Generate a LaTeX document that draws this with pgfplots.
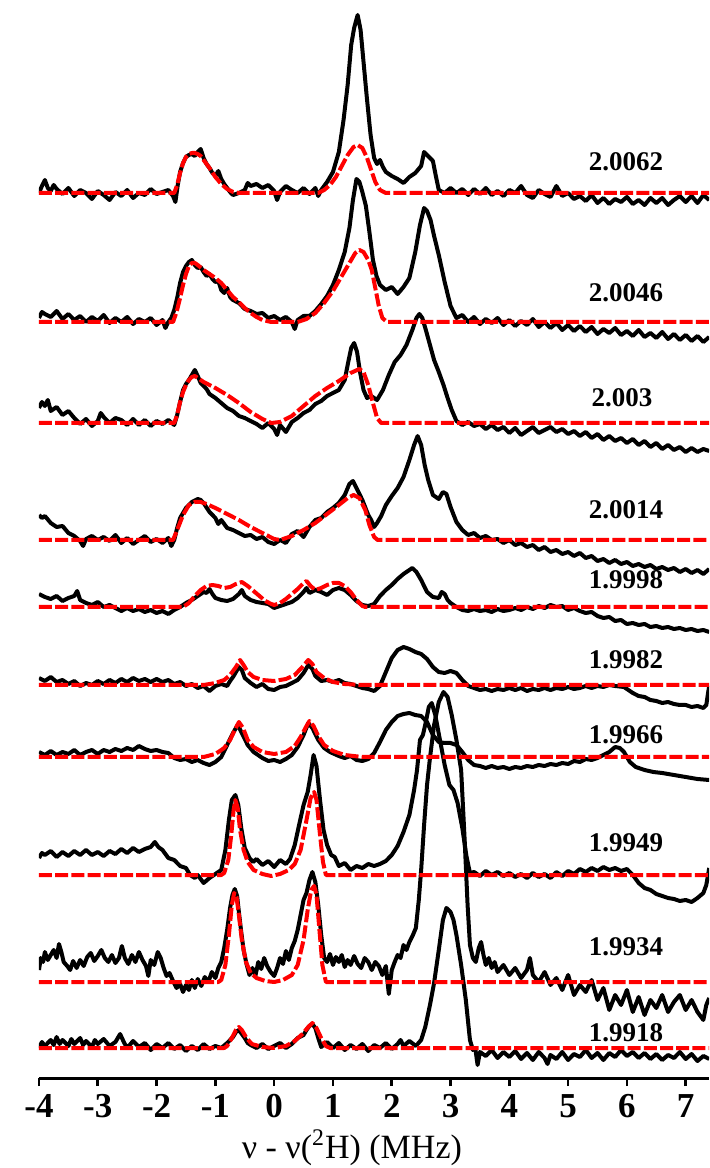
\documentclass[border=0pt]{standalone}
\usepackage{pgfplots}
\pgfplotsset{compat=1.18}
\usepackage{fontspec}
\setmainfont{Liberation Serif}
\begin{document}
\begin{tikzpicture}[lab/.style={font=\fontsize{13.5}{15}\selectfont\bfseries, anchor=center}]
\path[use as bounding box] (-19.5pt,-45pt) rectangle (335pt,539pt);
\begin{axis}[
 at={(0,0)}, anchor=south west,
 scale only axis, width=335pt, height=539pt,
 xmin=-4, xmax=7.396, ymin=0, ymax=1078,
 axis x line=bottom, axis y line=none,
 x axis line style={-, line width=1.5pt},
 xtick={-4,-3,-2,-1,0,1,2,3,4,5,6,7},
 xticklabels={-4,-3,-2,-1,0,1,2,3,4,5,6,7},
 tick align=outside, major tick length=4pt,
 xtick style={line width=1.3pt, black},
 xticklabel style={font=\fontsize{17.5}{19}\selectfont\bfseries, inner sep=2pt, yshift=-2pt},
 xlabel={ν - ν(\textsuperscript{2}H) (MHz)},
 xlabel style={at={(axis description cs:0.467,0)}, anchor=base, yshift=-40pt, font=\fontsize{17}{19}\selectfont},
 blk/.style={black, line width=2pt, line join=round, y filter/.expression={1078-y}},
 rd/.style={red, line width=2pt, line join=round, dash pattern=on 6.5pt off 1.6pt, y filter/.expression={1078-y}},
]
% ---- black experimental traces ----
\addplot[blk] coordinates {(-4,193)(-3.95,186)(-3.9,180)(-3.85,188)(-3.8,191)(-3.75,185)(-3.7,189)(-3.6,194)(-3.5,188)(-3.45,192)(-3.4,196)(-3.3,190)(-3.2,193)(-3.1,199)(-3.0,191)(-2.9,195)(-2.8,200)(-2.7,192)(-2.6,196)(-2.5,190)(-2.4,198)(-2.3,193)(-2.2,195)(-2.1,189)(-2.0,194)(-1.9,192)(-1.8,190)(-1.72,196)(-1.68,202)(-1.64,185)(-1.6,172)(-1.55,163)(-1.5,157)(-1.45,155)(-1.4,154)(-1.35,156)(-1.3,152)(-1.25,149)(-1.2,158)(-1.15,164)(-1.1,168)(-1.05,173)(-1.0,176)(-0.95,171)(-0.9,179)(-0.85,184)(-0.8,188)(-0.75,192)(-0.7,195)(-0.6,193)(-0.5,190)(-0.45,183)(-0.4,186)(-0.3,184)(-0.2,188)(-0.1,185)(0.0,191)(0.05,200)(0.1,192)(0.2,186)(0.3,190)(0.4,193)(0.5,188)(0.6,194)(0.7,188)(0.75,196)(0.8,190)(0.9,182)(1.0,172)(1.1,152)(1.18,120)(1.25,85)(1.31,45)(1.36,28)(1.42,15)(1.47,30)(1.52,62)(1.58,100)(1.64,135)(1.7,158)(1.75,164)(1.8,160)(1.85,167)(1.9,172)(2.0,176)(2.1,179)(2.2,183)(2.3,177)(2.4,173)(2.5,166)(2.55,152)(2.6,155)(2.65,158)(2.7,161)(2.75,176)(2.8,190)(2.9,193)(3.0,188)(3.1,193)(3.2,189)(3.3,195)(3.4,189)(3.5,194)(3.6,188)(3.7,195)(3.8,191)(3.9,196)(4.0,190)(4.1,193)(4.2,186)(4.3,195)(4.4,198)(4.5,190)(4.6,194)(4.7,197)(4.8,186)(4.9,196)(5.0,193)(5.1,199)(5.2,196)(5.3,201)(5.4,195)(5.5,203)(5.6,198)(5.7,204)(5.8,199)(5.9,202)(6.0,197)(6.1,204)(6.2,200)(6.3,205)(6.4,198)(6.5,203)(6.6,198)(6.7,205)(6.8,200)(6.9,196)(7.0,202)(7.1,196)(7.2,203)(7.3,195)(7.4,200)};
\addplot[blk] coordinates {(-4,318)(-3.95,312)(-3.9,314)(-3.8,317)(-3.7,311)(-3.6,319)(-3.5,314)(-3.4,320)(-3.3,316)(-3.2,322)(-3.1,317)(-3.0,321)(-2.9,315)(-2.8,323)(-2.7,318)(-2.6,322)(-2.5,317)(-2.4,324)(-2.3,319)(-2.2,322)(-2.1,318)(-2.0,325)(-1.9,320)(-1.85,328)(-1.8,322)(-1.75,318)(-1.7,310)(-1.65,298)(-1.6,283)(-1.55,272)(-1.5,266)(-1.45,262)(-1.4,260)(-1.35,265)(-1.3,268)(-1.25,267)(-1.2,272)(-1.15,276)(-1.1,274)(-1.05,279)(-1.0,282)(-0.95,281)(-0.9,290)(-0.85,293)(-0.8,288)(-0.75,297)(-0.7,300)(-0.6,303)(-0.5,309)(-0.4,311)(-0.3,314)(-0.2,313)(-0.1,318)(0.0,316)(0.1,320)(0.2,317)(0.3,322)(0.35,329)(0.4,320)(0.5,316)(0.6,316)(0.7,311)(0.8,304)(0.9,296)(1.0,285)(1.1,270)(1.2,252)(1.28,228)(1.34,200)(1.4,179)(1.45,182)(1.5,192)(1.56,206)(1.62,232)(1.68,260)(1.74,276)(1.8,285)(1.9,290)(2.0,287)(2.1,294)(2.2,287)(2.3,278)(2.4,252)(2.48,225)(2.55,208)(2.6,211)(2.66,220)(2.72,236)(2.8,255)(2.9,282)(3.0,306)(3.1,318)(3.2,315)(3.3,322)(3.4,317)(3.5,324)(3.6,319)(3.7,323)(3.8,318)(3.9,325)(4.0,320)(4.1,326)(4.2,321)(4.3,325)(4.4,319)(4.5,327)(4.6,322)(4.7,328)(4.8,323)(4.9,330)(5.0,325)(5.1,331)(5.2,326)(5.3,332)(5.4,327)(5.5,334)(5.6,329)(5.7,333)(5.8,328)(5.9,335)(6.0,331)(6.1,336)(6.2,330)(6.3,337)(6.4,333)(6.5,338)(6.6,332)(6.7,339)(6.8,334)(6.9,340)(7.0,335)(7.1,341)(7.2,336)(7.3,342)(7.4,337)};
\addplot[blk] coordinates {(-4,408)(-3.95,402)(-3.9,406)(-3.85,400)(-3.8,411)(-3.7,407)(-3.6,415)(-3.5,411)(-3.4,418)(-3.3,424)(-3.2,419)(-3.1,426)(-3.0,421)(-2.95,413)(-2.9,417)(-2.8,423)(-2.7,418)(-2.6,420)(-2.5,425)(-2.4,419)(-2.3,425)(-2.2,420)(-2.1,426)(-2.0,421)(-1.9,424)(-1.8,420)(-1.7,425)(-1.65,415)(-1.6,402)(-1.55,390)(-1.5,384)(-1.45,380)(-1.4,375)(-1.35,370)(-1.3,376)(-1.25,383)(-1.2,386)(-1.15,389)(-1.1,394)(-1.0,398)(-0.9,403)(-0.8,408)(-0.7,411)(-0.6,416)(-0.5,418)(-0.4,421)(-0.3,424)(-0.2,428)(-0.1,423)(0.0,429)(0.05,435)(0.1,425)(0.2,432)(0.3,422)(0.4,418)(0.5,413)(0.6,410)(0.7,404)(0.8,401)(0.9,396)(1.0,393)(1.1,390)(1.2,380)(1.26,362)(1.31,348)(1.36,343)(1.41,352)(1.46,372)(1.52,390)(1.58,398)(1.65,396)(1.75,400)(1.85,390)(1.95,375)(2.05,362)(2.15,355)(2.25,345)(2.35,330)(2.42,318)(2.47,314)(2.52,318)(2.58,330)(2.65,345)(2.72,360)(2.8,372)(2.88,385)(2.95,398)(3.02,410)(3.1,421)(3.2,425)(3.3,422)(3.4,426)(3.5,424)(3.6,429)(3.7,425)(3.8,430)(3.9,427)(4.0,433)(4.1,428)(4.2,435)(4.3,431)(4.4,427)(4.5,433)(4.6,430)(4.7,427)(4.8,432)(4.9,429)(5.0,434)(5.1,431)(5.2,436)(5.3,432)(5.4,438)(5.5,434)(5.6,440)(5.7,436)(5.8,441)(5.9,438)(6.0,443)(6.1,439)(6.2,445)(6.3,441)(6.4,447)(6.5,443)(6.6,449)(6.7,445)(6.8,450)(6.9,447)(7.0,452)(7.1,448)(7.2,452)(7.3,449)(7.4,451)};
\addplot[blk] coordinates {(-4,515)(-3.95,518)(-3.9,516)(-3.8,523)(-3.7,527)(-3.6,526)(-3.5,533)(-3.4,536)(-3.3,541)(-3.25,546)(-3.2,539)(-3.1,536)(-3.0,540)(-2.9,537)(-2.8,541)(-2.7,535)(-2.6,543)(-2.5,538)(-2.4,544)(-2.3,540)(-2.2,536)(-2.1,542)(-2.0,539)(-1.9,543)(-1.8,538)(-1.75,546)(-1.7,540)(-1.65,528)(-1.6,518)(-1.5,508)(-1.4,502)(-1.3,499)(-1.25,500)(-1.2,503)(-1.1,512)(-1.0,518)(-0.95,524)(-0.9,520)(-0.8,528)(-0.7,530)(-0.6,533)(-0.5,536)(-0.4,535)(-0.3,539)(-0.2,537)(-0.1,542)(0.0,544)(0.1,540)(0.2,543)(0.3,534)(0.4,531)(0.5,537)(0.6,527)(0.7,520)(0.8,518)(0.9,512)(1.0,508)(1.1,503)(1.2,495)(1.28,484)(1.34,481)(1.4,488)(1.5,500)(1.6,515)(1.65,520)(1.7,527)(1.75,523)(1.82,516)(1.9,505)(2.0,496)(2.1,488)(2.2,477)(2.3,460)(2.38,445)(2.44,436)(2.5,445)(2.56,465)(2.62,480)(2.7,495)(2.8,499)(2.87,492)(2.93,494)(3.0,507)(3.1,522)(3.2,530)(3.3,535)(3.4,533)(3.5,538)(3.6,536)(3.7,540)(3.8,539)(3.9,543)(4.0,540)(4.1,545)(4.2,543)(4.3,547)(4.4,545)(4.5,550)(4.6,547)(4.7,552)(4.8,550)(4.9,554)(5.0,552)(5.1,556)(5.2,553)(5.3,558)(5.4,556)(5.5,561)(5.6,559)(5.7,563)(5.8,560)(5.9,564)(6.0,562)(6.1,566)(6.2,564)(6.3,567)(6.4,565)(6.5,569)(6.6,567)(6.7,570)(6.8,568)(6.9,572)(7.0,569)(7.1,573)(7.2,570)(7.3,574)(7.4,569)};
\addplot[blk] coordinates {(-4,594)(-3.9,597)(-3.8,599)(-3.7,596)(-3.6,601)(-3.5,598)(-3.4,596)(-3.35,591)(-3.3,600)(-3.2,603)(-3.1,605)(-3.0,602)(-2.9,607)(-2.8,605)(-2.7,608)(-2.6,611)(-2.5,608)(-2.4,611)(-2.3,609)(-2.2,612)(-2.1,610)(-2.0,613)(-1.9,611)(-1.8,614)(-1.7,610)(-1.6,607)(-1.5,603)(-1.4,600)(-1.3,596)(-1.2,592)(-1.15,593)(-1.1,589)(-1.05,594)(-1.0,598)(-0.9,600)(-0.8,601)(-0.7,599)(-0.6,594)(-0.55,590)(-0.5,596)(-0.4,600)(-0.3,602)(-0.2,603)(-0.1,604)(0.0,608)(0.1,606)(0.2,604)(0.3,602)(0.4,598)(0.5,592)(0.55,588)(0.6,593)(0.7,590)(0.8,592)(0.9,595)(1.0,590)(1.1,588)(1.2,590)(1.3,595)(1.4,601)(1.5,605)(1.6,606)(1.7,604)(1.8,596)(1.9,590)(2.0,585)(2.1,579)(2.2,574)(2.3,570)(2.35,568)(2.42,572)(2.5,580)(2.6,592)(2.7,597)(2.8,598)(2.85,592)(2.9,594)(2.95,600)(3.0,603)(3.1,607)(3.2,610)(3.3,611)(3.4,609)(3.5,611)(3.6,610)(3.7,612)(3.8,609)(3.9,611)(4.0,610)(4.1,608)(4.2,610)(4.3,607)(4.4,609)(4.5,606)(4.6,608)(4.7,605)(4.8,607)(4.9,606)(5.0,610)(5.1,608)(5.2,611)(5.3,613)(5.4,612)(5.5,616)(5.6,618)(5.7,617)(5.8,621)(5.9,620)(6.0,624)(6.1,623)(6.2,625)(6.3,624)(6.4,627)(6.5,626)(6.6,628)(6.7,627)(6.8,629)(6.9,628)(7.0,630)(7.1,629)(7.2,631)(7.3,630)(7.4,632)};
\addplot[blk] coordinates {(-4,678)(-3.9,681)(-3.8,677)(-3.7,682)(-3.6,680)(-3.5,684)(-3.4,681)(-3.3,686)(-3.2,683)(-3.1,685)(-3.0,681)(-2.9,684)(-2.8,680)(-2.7,683)(-2.6,679)(-2.5,682)(-2.4,678)(-2.3,681)(-2.2,679)(-2.1,682)(-2.0,679)(-1.9,682)(-1.8,680)(-1.7,684)(-1.6,682)(-1.5,686)(-1.4,684)(-1.3,688)(-1.2,686)(-1.1,691)(-1.0,686)(-0.9,684)(-0.8,686)(-0.75,681)(-0.7,677)(-0.65,672)(-0.6,667)(-0.55,670)(-0.5,678)(-0.4,683)(-0.3,687)(-0.2,684)(-0.1,689)(0.0,690)(0.1,687)(0.2,686)(0.3,683)(0.4,680)(0.5,673)(0.58,665)(0.65,669)(0.7,676)(0.8,681)(0.9,680)(1.0,682)(1.1,680)(1.2,683)(1.3,684)(1.4,686)(1.5,688)(1.6,689)(1.7,691)(1.8,686)(1.9,672)(2.0,658)(2.1,650)(2.2,647)(2.3,649)(2.4,652)(2.5,654)(2.6,659)(2.7,667)(2.8,672)(2.9,673)(3.0,671)(3.1,673)(3.2,680)(3.3,686)(3.4,688)(3.5,690)(3.6,689)(3.7,691)(3.8,689)(3.9,690)(4.0,688)(4.1,690)(4.2,688)(4.3,691)(4.4,689)(4.5,690)(4.6,688)(4.7,690)(4.8,688)(4.9,689)(5.0,687)(5.1,689)(5.2,688)(5.3,686)(5.4,688)(5.5,686)(5.6,687)(5.7,685)(5.8,686)(5.95,687)(6.1,693)(6.2,696)(6.3,697)(6.4,700)(6.5,701)(6.6,703)(6.7,702)(6.8,704)(6.9,705)(7.0,705)(7.1,707)(7.2,706)(7.3,708)(7.35,705)(7.38,693)(7.4,686)};
\addplot[blk] coordinates {(-4,752)(-3.9,755)(-3.8,751)(-3.7,755)(-3.6,752)(-3.5,754)(-3.4,750)(-3.3,755)(-3.2,752)(-3.1,750)(-3.0,754)(-2.9,750)(-2.8,752)(-2.7,749)(-2.6,751)(-2.5,748)(-2.4,750)(-2.3,746)(-2.2,749)(-2.1,751)(-2.0,750)(-1.9,752)(-1.8,753)(-1.7,758)(-1.6,760)(-1.5,759)(-1.4,762)(-1.3,760)(-1.2,763)(-1.1,765)(-1.0,762)(-0.9,757)(-0.8,745)(-0.7,733)(-0.62,725)(-0.55,733)(-0.45,745)(-0.35,752)(-0.2,758)(-0.1,761)(0.0,760)(0.1,762)(0.2,759)(0.3,755)(0.4,747)(0.5,735)(0.58,723)(0.65,728)(0.75,740)(0.85,748)(0.95,752)(1.1,756)(1.2,758)(1.3,756)(1.4,760)(1.5,761)(1.6,759)(1.7,753)(1.8,742)(1.9,730)(2.0,722)(2.1,716)(2.2,714)(2.3,713)(2.4,715)(2.5,716)(2.6,722)(2.7,735)(2.8,742)(2.9,743)(3.0,743)(3.1,745)(3.2,752)(3.3,760)(3.4,765)(3.5,766)(3.6,768)(3.7,766)(3.8,768)(3.9,767)(4.0,769)(4.1,767)(4.2,768)(4.3,766)(4.4,767)(4.5,765)(4.6,766)(4.7,764)(4.8,765)(4.9,763)(5.0,764)(5.1,761)(5.2,762)(5.3,759)(5.4,760)(5.5,758)(5.6,755)(5.7,752)(5.8,747)(5.88,748)(5.95,752)(6.05,762)(6.15,767)(6.3,770)(6.45,772)(6.6,773)(6.8,775)(7.0,777)(7.2,779)(7.4,780)};
\addplot[blk] coordinates {(-4,858)(-3.95,853)(-3.9,855)(-3.8,851)(-3.7,857)(-3.6,852)(-3.5,856)(-3.4,851)(-3.3,855)(-3.2,850)(-3.1,855)(-3.0,852)(-2.9,856)(-2.8,851)(-2.7,854)(-2.6,849)(-2.5,853)(-2.4,848)(-2.3,852)(-2.2,849)(-2.1,847)(-2.03,842)(-1.97,847)(-1.9,850)(-1.8,858)(-1.7,860)(-1.6,866)(-1.5,868)(-1.43,875)(-1.35,878)(-1.3,875)(-1.2,883)(-1.1,878)(-1.0,874)(-0.9,870)(-0.83,850)(-0.77,820)(-0.72,800)(-0.66,795)(-0.61,805)(-0.56,828)(-0.5,848)(-0.42,858)(-0.36,862)(-0.3,859)(-0.2,865)(-0.1,861)(0.0,867)(0.1,860)(0.2,864)(0.27,859)(0.35,845)(0.42,826)(0.5,805)(0.57,792)(0.62,775)(0.67,755)(0.72,766)(0.78,800)(0.84,830)(0.9,845)(0.97,855)(1.03,857)(1.1,866)(1.2,863)(1.3,870)(1.4,866)(1.5,868)(1.6,864)(1.7,866)(1.8,864)(1.9,861)(2.0,855)(2.1,846)(2.2,832)(2.3,815)(2.38,790)(2.43,770)(2.48,740)(2.53,735)(2.58,722)(2.63,707)(2.68,703)(2.74,715)(2.82,740)(2.9,765)(2.98,785)(3.05,790)(3.12,803)(3.2,828)(3.27,856)(3.33,873)(3.4,872)(3.5,876)(3.6,871)(3.7,875)(3.8,872)(3.9,876)(4.0,873)(4.1,877)(4.2,874)(4.3,878)(4.4,873)(4.5,877)(4.6,874)(4.7,878)(4.8,872)(4.9,876)(5.0,871)(5.1,874)(5.2,869)(5.3,872)(5.4,868)(5.5,871)(5.6,867)(5.7,870)(5.8,868)(5.9,871)(6.0,869)(6.1,875)(6.2,883)(6.3,888)(6.4,890)(6.5,894)(6.6,896)(6.7,898)(6.8,899)(6.9,901)(7.0,900)(7.1,902)(7.2,898)(7.3,893)(7.35,885)(7.4,868)};
\addplot[blk] coordinates {(-4,970)(-3.97,958)(-3.93,962)(-3.9,952)(-3.85,960)(-3.8,955)(-3.75,950)(-3.7,958)(-3.66,944)(-3.62,952)(-3.58,962)(-3.52,966)(-3.47,970)(-3.42,961)(-3.36,968)(-3.3,960)(-3.24,966)(-3.18,957)(-3.12,953)(-3.06,961)(-3.0,956)(-2.94,950)(-2.88,958)(-2.82,962)(-2.76,955)(-2.7,963)(-2.64,958)(-2.59,946)(-2.54,958)(-2.48,964)(-2.42,955)(-2.36,962)(-2.3,952)(-2.24,960)(-2.18,966)(-2.14,976)(-2.1,960)(-2.04,965)(-1.98,952)(-1.93,958)(-1.88,968)(-1.83,976)(-1.78,973)(-1.72,981)(-1.66,988)(-1.6,984)(-1.55,992)(-1.5,985)(-1.45,990)(-1.4,980)(-1.35,988)(-1.3,979)(-1.24,986)(-1.18,977)(-1.12,982)(-1.06,972)(-1.0,978)(-0.95,968)(-0.9,962)(-0.85,948)(-0.8,930)(-0.75,908)(-0.71,895)(-0.67,889)(-0.63,896)(-0.6,912)(-0.56,932)(-0.52,950)(-0.47,964)(-0.42,975)(-0.37,968)(-0.32,976)(-0.27,962)(-0.22,969)(-0.17,958)(-0.12,966)(-0.06,972)(0.0,976)(0.05,968)(0.1,958)(0.15,964)(0.2,951)(0.25,960)(0.3,948)(0.35,941)(0.4,930)(0.45,915)(0.5,900)(0.55,893)(0.6,880)(0.65,872)(0.7,882)(0.75,905)(0.8,935)(0.85,958)(0.9,962)(0.95,954)(1.0,965)(1.05,957)(1.1,962)(1.15,955)(1.2,967)(1.25,960)(1.3,965)(1.36,956)(1.42,964)(1.48,968)(1.54,958)(1.6,962)(1.66,970)(1.72,962)(1.78,966)(1.84,975)(1.9,966)(1.95,994)(2.0,970)(2.05,962)(2.1,955)(2.15,958)(2.2,945)(2.25,950)(2.3,942)(2.36,935)(2.41,928)(2.46,900)(2.5,870)(2.55,825)(2.6,785)(2.65,758)(2.72,725)(2.8,702)(2.88,692)(2.95,697)(3.02,715)(3.1,740)(3.18,770)(3.24,840)(3.29,905)(3.33,945)(3.38,958)(3.43,962)(3.48,948)(3.52,942)(3.56,955)(3.6,965)(3.65,958)(3.7,968)(3.75,962)(3.8,972)(3.9,965)(4.0,975)(4.1,968)(4.2,978)(4.3,970)(4.35,958)(4.4,975)(4.5,982)(4.6,972)(4.7,985)(4.8,978)(4.9,990)(5.0,975)(5.1,995)(5.2,985)(5.3,992)(5.4,980)(5.5,1000)(5.6,988)(5.7,1010)(5.8,995)(5.9,1005)(6.0,990)(6.1,1012)(6.2,997)(6.3,1015)(6.4,1000)(6.5,1008)(6.6,995)(6.7,1012)(6.8,1002)(6.9,995)(7.0,1010)(7.1,1000)(7.2,1012)(7.3,1020)(7.35,1005)(7.4,998)};
\addplot[blk] coordinates {(-4,1048)(-3.95,1042)(-3.9,1046)(-3.8,1040)(-3.75,1045)(-3.7,1037)(-3.65,1044)(-3.6,1040)(-3.5,1046)(-3.45,1039)(-3.4,1044)(-3.3,1038)(-3.25,1045)(-3.2,1041)(-3.1,1047)(-3.05,1040)(-3.0,1044)(-2.9,1039)(-2.8,1046)(-2.7,1042)(-2.62,1034)(-2.55,1043)(-2.5,1048)(-2.4,1041)(-2.3,1047)(-2.2,1043)(-2.1,1050)(-2.0,1044)(-1.9,1048)(-1.8,1043)(-1.7,1049)(-1.6,1045)(-1.5,1051)(-1.4,1046)(-1.3,1050)(-1.2,1044)(-1.1,1049)(-1.0,1046)(-0.9,1048)(-0.8,1043)(-0.7,1037)(-0.65,1032)(-0.6,1030)(-0.55,1034)(-0.5,1038)(-0.45,1043)(-0.4,1045)(-0.3,1048)(-0.2,1044)(-0.1,1049)(0.0,1046)(0.1,1043)(0.2,1048)(0.3,1044)(0.4,1038)(0.5,1035)(0.55,1030)(0.6,1026)(0.65,1024)(0.7,1028)(0.75,1038)(0.8,1047)(0.9,1042)(1.0,1048)(1.1,1043)(1.2,1050)(1.3,1045)(1.4,1049)(1.5,1044)(1.6,1051)(1.7,1045)(1.8,1048)(1.9,1043)(2.0,1049)(2.1,1044)(2.15,1040)(2.2,1046)(2.3,1041)(2.41,1046)(2.5,1040)(2.57,1027)(2.65,1005)(2.72,983)(2.8,950)(2.87,920)(2.93,908)(3.0,912)(3.05,920)(3.1,935)(3.18,965)(3.26,1000)(3.33,1040)(3.38,1050)(3.42,1048)(3.46,1065)(3.5,1052)(3.6,1056)(3.7,1050)(3.8,1058)(3.9,1052)(4.0,1057)(4.1,1051)(4.2,1059)(4.3,1053)(4.4,1060)(4.5,1052)(4.6,1058)(4.65,1064)(4.7,1055)(4.8,1059)(4.9,1052)(5.0,1060)(5.1,1054)(5.2,1057)(5.3,1050)(5.4,1058)(5.5,1053)(5.6,1060)(5.7,1053)(5.8,1057)(5.9,1050)(6.0,1056)(6.1,1052)(6.2,1058)(6.3,1053)(6.4,1059)(6.5,1054)(6.6,1060)(6.7,1055)(6.8,1058)(6.9,1052)(7.0,1059)(7.1,1054)(7.2,1061)(7.3,1056)(7.4,1059)};
% ---- red dashed simulations ----
\addplot[rd] coordinates {(-4,193)(-1.7,193)(-1.65,185)(-1.6,173)(-1.55,163)(-1.5,157)(-1.45,154)(-1.4,153)(-1.35,153)(-1.3,154)(-1.25,156)(-1.2,160)(-1.1,168)(-1.0,177)(-0.9,184)(-0.8,189)(-0.7,192)(-0.6,193)(0.75,193)(0.85,190)(0.95,185)(1.05,177)(1.15,166)(1.25,155)(1.35,147)(1.42,145)(1.5,148)(1.58,158)(1.65,170)(1.72,182)(1.8,190)(1.9,193)(7.4,193)};
\addplot[rd] coordinates {(-4,322)(-1.72,322)(-1.66,312)(-1.6,298)(-1.55,285)(-1.5,274)(-1.45,266)(-1.4,263)(-1.35,263)(-1.3,265)(-1.2,270)(-1.1,274)(-1.0,278)(-0.9,283)(-0.8,290)(-0.7,297)(-0.6,302)(-0.5,308)(-0.4,313)(-0.3,317)(-0.2,320)(-0.05,322)(0.4,322)(0.55,319)(0.7,313)(0.85,303)(1.0,291)(1.1,281)(1.2,271)(1.3,261)(1.38,253)(1.45,250)(1.52,252)(1.6,260)(1.66,270)(1.72,288)(1.78,306)(1.84,318)(1.92,322)(7.4,322)};
\addplot[rd] coordinates {(-4,423)(-1.7,423)(-1.65,415)(-1.6,402)(-1.55,392)(-1.5,385)(-1.45,380)(-1.4,377)(-1.35,376)(-1.3,378)(-1.2,382)(-1.0,388)(-0.8,395)(-0.6,403)(-0.4,412)(-0.2,419)(-0.05,423)(0.1,422)(0.3,416)(0.5,406)(0.7,396)(0.9,388)(1.1,381)(1.3,373)(1.45,369)(1.52,372)(1.6,385)(1.68,403)(1.75,418)(1.82,423)(7.4,423)};
\addplot[rd] coordinates {(-4,540)(-1.72,540)(-1.65,530)(-1.55,515)(-1.45,505)(-1.35,502)(-1.25,502)(-1.15,504)(-1.0,508)(-0.8,514)(-0.6,520)(-0.4,527)(-0.2,533)(0.0,539)(0.1,540)(0.3,536)(0.5,530)(0.7,523)(0.9,514)(1.1,505)(1.25,498)(1.35,495)(1.45,498)(1.55,510)(1.62,525)(1.7,537)(1.76,540)(7.4,540)};
\addplot[rd] coordinates {(-4,607)(-1.55,607)(-1.45,603)(-1.35,596)(-1.25,590)(-1.15,586)(-1.05,585)(-0.95,586)(-0.85,588)(-0.75,587)(-0.65,584)(-0.55,582)(-0.45,586)(-0.35,591)(-0.25,596)(-0.15,601)(-0.05,604)(0.0,605)(0.1,603)(0.2,599)(0.3,594)(0.4,589)(0.5,583)(0.55,581)(0.62,586)(0.7,590)(0.8,588)(0.9,585)(1.0,583)(1.1,583)(1.2,586)(1.3,592)(1.4,600)(1.5,606)(1.55,607)(7.4,607)};
\addplot[rd] coordinates {(-4,685)(-1.2,685)(-1.0,683)(-0.85,680)(-0.75,675)(-0.65,667)(-0.58,660)(-0.52,665)(-0.45,672)(-0.35,677)(-0.2,680)(0.0,681)(0.2,679)(0.35,675)(0.48,667)(0.58,660)(0.65,664)(0.72,672)(0.85,678)(1.0,682)(1.2,684)(1.5,685)(7.4,685)};
\addplot[rd] coordinates {(-4,757)(-1.2,757)(-1.0,754)(-0.85,748)(-0.75,740)(-0.67,730)(-0.6,722)(-0.53,728)(-0.45,740)(-0.35,747)(-0.2,752)(0.0,754)(0.2,752)(0.35,746)(0.45,737)(0.55,726)(0.6,721)(0.67,726)(0.75,736)(0.85,745)(1.0,751)(1.2,755)(1.5,757)(7.4,757)};
\addplot[rd] coordinates {(-4,875)(-0.9,875)(-0.85,873)(-0.78,860)(-0.73,835)(-0.69,810)(-0.66,800)(-0.62,808)(-0.58,830)(-0.52,850)(-0.45,862)(-0.35,870)(-0.2,874)(-0.05,876)(0.1,874)(0.25,870)(0.35,864)(0.45,850)(0.55,820)(0.62,798)(0.68,792)(0.72,800)(0.78,835)(0.83,862)(0.88,875)(7.4,875)};
\addplot[rd] coordinates {(-4,982)(-0.95,982)(-0.9,980)(-0.83,965)(-0.77,935)(-0.72,905)(-0.68,893)(-0.64,897)(-0.6,915)(-0.55,940)(-0.48,962)(-0.4,973)(-0.3,978)(-0.15,981)(0.0,982)(0.15,980)(0.3,975)(0.4,965)(0.5,940)(0.57,910)(0.63,890)(0.68,886)(0.72,895)(0.77,930)(0.82,965)(0.88,982)(7.4,982)};
\addplot[rd] coordinates {(-4,1048)(-0.85,1048)(-0.8,1046)(-0.72,1038)(-0.65,1030)(-0.6,1027)(-0.55,1030)(-0.47,1038)(-0.38,1044)(-0.2,1047)(0.0,1048)(0.2,1046)(0.35,1041)(0.48,1034)(0.58,1027)(0.65,1023)(0.72,1028)(0.8,1038)(0.88,1046)(0.95,1048)(7.4,1048)};
% ---- g-value labels ----
\node[lab] at (rel axis cs:0.876,0.8497) {2.0062};
\node[lab] at (rel axis cs:0.876,0.7282) {2.0046};
\node[lab] at (rel axis cs:0.870,0.6308) {2.003};
\node[lab] at (rel axis cs:0.876,0.5269) {2.0014};
\node[lab] at (rel axis cs:0.876,0.4620) {1.9998};
\node[lab] at (rel axis cs:0.876,0.3878) {1.9982};
\node[lab] at (rel axis cs:0.876,0.3182) {1.9966};
\node[lab] at (rel axis cs:0.876,0.2180) {1.9949};
\node[lab] at (rel axis cs:0.876,0.1215) {1.9934};
\node[lab] at (rel axis cs:0.876,0.0417) {1.9918};
\end{axis}
\end{tikzpicture}
\end{document}
